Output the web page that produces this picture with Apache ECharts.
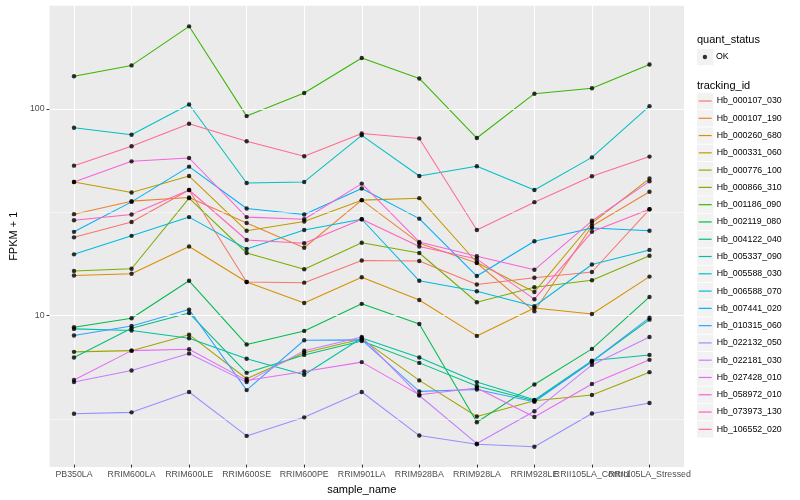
<!DOCTYPE html>
<html><head><meta charset="utf-8">
<script src="https://cdn.jsdelivr.net/npm/echarts@6/dist/echarts.min.js"></script>
<style>html,body{margin:0;padding:0;background:#fff}#c{width:800px;height:500px}</style>
</head><body><div id="c"></div>
<script>
// ---------- data ----------
const categories = ['PB350LA','RRIM600LA','RRIM600LE','RRIM600SE','RRIM600PE','RRIM901LA','RRIM928BA','RRIM928LA','RRIM928LE','RRII105LA_Control','RRII105LA_Stressed'];
const trackingIds = ['Hb_000107_030','Hb_000107_190','Hb_000260_680','Hb_000331_060','Hb_000776_100','Hb_000866_310','Hb_001186_090','Hb_002119_080','Hb_004122_040','Hb_005337_090','Hb_005588_030','Hb_006588_070','Hb_007441_020','Hb_010315_060','Hb_022132_050','Hb_022181_030','Hb_027428_010','Hb_058972_010','Hb_073973_130','Hb_106552_020'];
const colors = ['#F8766D','#EA8331','#D89000','#C09B00','#A3A500','#7CAE00','#39B600','#00BB4E','#00BF7D','#00C1A3','#00BFC4','#00BAE0','#00B0F6','#35A2FF','#9590FF','#C77CFF','#E76BF3','#FA62DB','#FF62BC','#FF6C91'];

const Hb_000107_030 = [23.6, 28.0, 40.1, 14.3, 14.2, 18.2, 18.1, 13.9, 15.0, 16.0, 32.3];
const Hb_000107_190 = [30.6, 35.4, 36.9, 27.7, 21.0, 35.8, 22.1, 17.7, 10.3, 26.8, 39.3];
const Hb_000260_680 = [15.4, 15.7, 21.3, 14.3, 11.3, 15.1, 11.7, 7.82, 10.7, 10.0, 15.2];
const Hb_000331_060 = [43.9, 39.0, 46.9, 25.4, 28.2, 35.8, 36.6, 17.8, 12.8, 27.7, 45.6];
const Hb_000776_100 = [6.54, 6.63, 7.93, 4.84, 6.47, 7.56, 4.75, 3.17, 3.78, 4.03, 5.21];
const Hb_000866_310 = [16.2, 16.6, 36.6, 19.8, 16.5, 22.2, 19.8, 11.4, 13.5, 14.6, 19.2];
const Hb_001186_090 = [143.5, 162, 251, 91.8, 119, 176, 140, 71.8, 118, 125.5, 163.7];
const Hb_002119_080 = [8.62, 9.53, 14.5, 7.10, 8.27, 11.2, 8.94, 2.97, 4.54, 6.76, 12.1];
const Hb_004122_040 = [6.14, 8.52, 10.1, 5.17, 6.32, 7.39, 5.78, 4.46, 3.78, 5.87, 9.38];
const Hb_005337_090 = [8.46, 8.30, 7.62, 6.05, 5.06, 7.64, 6.14, 4.66, 3.82, 5.93, 6.32];
const Hb_005588_030 = [80.6, 74.5, 104.6, 43.4, 43.9, 74.0, 46.9, 52.3, 40.1, 57.8, 102.6];
const Hb_006588_070 = [19.5, 24.0, 29.6, 20.7, 25.6, 28.9, 14.5, 12.9, 10.9, 17.4, 20.5];
const Hb_007441_020 = [25.1, 35.1, 52.1, 32.6, 30.5, 40.8, 29.1, 15.3, 22.6, 26.2, 25.4];
const Hb_010315_060 = [7.85, 8.74, 10.5, 4.26, 7.45, 7.48, 4.20, 4.29, 3.74, 5.87, 9.59];
const Hb_022132_050 = [3.27, 3.32, 4.17, 2.55, 3.14, 4.17, 2.56, 2.32, 2.26, 3.28, 3.69];
const Hb_022181_030 = [4.66, 5.31, 6.42, 4.66, 6.63, 7.73, 4.01, 2.34, 3.36, 5.65, 7.73];
const Hb_027428_010 = [4.77, 6.63, 6.74, 4.75, 5.25, 5.83, 4.04, 4.36, 3.15, 4.56, 5.98];
const Hb_058972_010 = [43.9, 55.3, 57.4, 29.6, 28.9, 43.1, 22.4, 19.1, 16.4, 28.4, 44.2];
const Hb_073973_130 = [28.6, 30.5, 40.1, 22.9, 22.1, 28.9, 21.3, 18.5, 11.8, 25.1, 32.3];
const Hb_106552_020 = [52.7, 65.5, 84.3, 69.3, 58.5, 75.6, 71.5, 25.6, 35.0, 46.8, 58.3];

const seriesValues = [Hb_000107_030, Hb_000107_190, Hb_000260_680, Hb_000331_060, Hb_000776_100, Hb_000866_310, Hb_001186_090, Hb_002119_080, Hb_004122_040, Hb_005337_090, Hb_005588_030, Hb_006588_070, Hb_007441_020, Hb_010315_060, Hb_022132_050, Hb_022181_030, Hb_027428_010, Hb_058972_010, Hb_073973_130, Hb_106552_020];

const yTickValues = [10, 100];
const yMajorGrid = [10, 100];
const yMinorGrid = [3.1623, 31.623, 316.23];
const quantStatus = ['OK'];

// ---------- layout ----------
const P = {left: 39.5, right: 684, top: 5.5, bottom: 467};
const yMin = 1.849, yMax = 317;
const keyTop = 101, keyStep = 17.28;

const chart = echarts.init(document.getElementById('c'), null, {renderer: 'canvas'});

const series = [];
series.push({
  type: 'line', xAxisIndex: 0, yAxisIndex: 0, data: [[0.5, 10]], showSymbol: false, symbol: 'none',
  lineStyle: {opacity: 0}, silent: true, legendHoverLink: false, z: 1,
  markLine: {
    silent: true, symbol: ['none', 'none'], label: {show: false}, animation: false,
    emphasis: {disabled: true},
    data: yMajorGrid.map(v => ({yAxis: v, lineStyle: {color: '#FFFFFF', width: 1.1, type: 'solid'}}))
      .concat(yMinorGrid.map(v => ({yAxis: v, lineStyle: {color: '#FFFFFF', width: 0.55, type: 'solid'}})))
  }
});
trackingIds.forEach((id, i) => {
  series.push({
    name: id, type: 'line', xAxisIndex: 1, yAxisIndex: 1,
    data: seriesValues[i], showSymbol: false, symbol: 'none',
    lineStyle: {color: colors[i], width: 1.05}, itemStyle: {color: colors[i]},
    emphasis: {disabled: true}, z: 2
  });
});
const points = [];
seriesValues.forEach(arr => arr.forEach((v, ci) => points.push([ci, v])));
series.push({
  name: quantStatus[0], type: 'scatter', xAxisIndex: 1, yAxisIndex: 1,
  data: points, symbol: 'circle', symbolSize: 4.4,
  itemStyle: {color: '#000000'}, emphasis: {disabled: true}, z: 5
});

const font = 'Liberation Sans, Arial, Helvetica, sans-serif';
const graphics = [];
graphics.push({type: 'text', left: 697, top: 40 - 5.5, style: {text: 'quant_status', fontSize: 11, fill: '#000', fontFamily: font}});
graphics.push({type: 'rect', shape: {x: 697, y: 57 - 8.2, width: 16.4, height: 16.4}, style: {fill: '#F2F2F2'}, z: -1});
graphics.push({type: 'text', left: 697, top: 86 - 5.5, style: {text: 'tracking_id', fontSize: 11, fill: '#000', fontFamily: font}});
trackingIds.forEach((id, i) => {
  graphics.push({type: 'rect', shape: {x: 697, y: keyTop + i * keyStep - 8.2, width: 16.4, height: 16.4}, style: {fill: '#F2F2F2'}, z: -1});
});

const option = {
  animation: false,
  backgroundColor: '#FFFFFF',
  textStyle: {fontFamily: font},
  grid: [
    {left: P.left, top: P.top, width: P.right - P.left, height: P.bottom - P.top, show: true, backgroundColor: '#EBEBEB', borderWidth: 0, containLabel: false},
    {left: 74.0, top: P.top, width: 649.5 - 74.0, height: P.bottom - P.top, show: false, containLabel: false}
  ],
  xAxis: [
    {gridIndex: 0, type: 'value', min: 0, max: 1, show: false},
    {gridIndex: 1, type: 'category', data: categories, boundaryGap: false,
     axisLine: {show: false},
     axisTick: {show: true, interval: 0, length: 3, lineStyle: {color: '#333333', width: 1}},
     axisLabel: {interval: 0, color: '#4D4D4D', fontSize: 8.8, margin: 5.5, fontFamily: font, hideOverlap: false},
     splitLine: {show: true, interval: 0, lineStyle: {color: '#FFFFFF', width: 1.1}},
     name: 'sample_name', nameLocation: 'middle', nameGap: 16,
     nameTextStyle: {color: '#000', fontSize: 11, fontFamily: font}}
  ],
  yAxis: [
    {gridIndex: 0, type: 'log', logBase: 10, min: yMin, max: yMax,
     axisLine: {show: false},
     axisTick: {show: true, customValues: yTickValues, length: 3, lineStyle: {color: '#333333', width: 1}},
     axisLabel: {customValues: yTickValues, color: '#4D4D4D', fontSize: 8.8, margin: 5, fontFamily: font,
                 formatter: v => String(Math.round(v))},
     splitLine: {show: false}, minorTick: {show: false}, minorSplitLine: {show: false},
     name: 'FPKM + 1', nameLocation: 'middle', nameGap: 23,
     nameTextStyle: {color: '#000', fontSize: 11, fontFamily: font}},
    {gridIndex: 1, type: 'log', logBase: 10, min: yMin, max: yMax, show: false, splitLine: {show: false}}
  ],
  legend: [
    {data: trackingIds, orient: 'vertical', left: 698.7, top: keyTop - keyStep / 2, padding: 0, itemGap: 0,
     icon: 'rect', itemWidth: 13, itemHeight: 1.2, selectedMode: false,
     textStyle: {fontSize: 8.8, color: '#000', lineHeight: keyStep, fontFamily: font}},
    {data: quantStatus, orient: 'vertical', left: 702.7, top: 57 - keyStep / 2, padding: 0, itemGap: 0,
     icon: 'circle', itemWidth: 5, itemHeight: 4.4, selectedMode: false,
     textStyle: {fontSize: 8.8, color: '#000', lineHeight: keyStep, fontFamily: font, padding: [0, 0, 0, 3.5]}}
  ],
  graphic: graphics,
  series: series
};
chart.setOption(option);
</script>
</body></html>
